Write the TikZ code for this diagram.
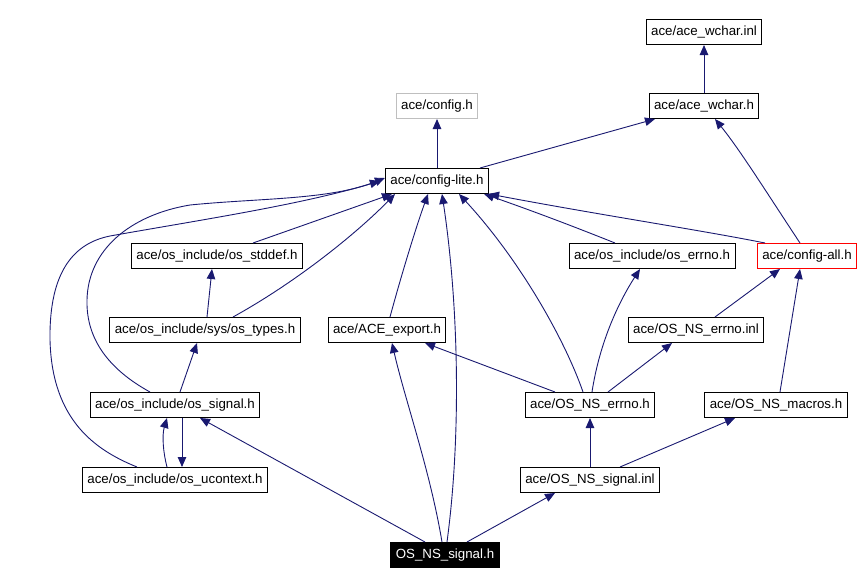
\documentclass[tikz,border=0pt]{standalone}
\usepackage{fontspec}
\setmainfont{Liberation Sans}
\usepackage{tikz}
\usetikzlibrary{arrows.meta}
\definecolor{edgeblue}{HTML}{191970}
\tikzset{
  hdr/.style={draw=black, line width=1pt, rectangle, minimum height=25pt, inner xsep=5pt, inner ysep=0pt, font=\fontsize{13.3}{15}\selectfont},
  dep/.style={draw=edgeblue, line width=0.9pt, -{Triangle[length=10pt,width=8.5pt]}}
}
\newcommand{\filenode}[4]{\node[hdr] (#1) at (#2,#3) {#4};}

\begin{document}
\begin{tikzpicture}[x=1pt,y=-1pt]
    \useasboundingbox (0,0) rectangle (863,584);
    %nodes
    \filenode{wchinl}{704}{32}{ace/ace\_wchar.inl}
    \node[hdr,draw=black!25] (cfg) at (437,106) {ace/config.h};
    \filenode{wch}{704}{106}{ace/ace\_wchar.h}
    \filenode{lite}{437}{181}{ace/config-lite.h}
    \filenode{stddef}{217}{256}{ace/os\_include/os\_stddef.h}
    \filenode{oserr}{652}{256}{ace/os\_include/os\_errno.h}
    \node[hdr,draw=red] (all) at (807,256) {ace/config-all.h};
    \filenode{types}{205}{330}{ace/os\_include/sys/os\_types.h}
    \filenode{export}{387}{330}{ace/ACE\_export.h}
    \filenode{nserrinl}{696}{330}{ace/OS\_NS\_errno.inl}
    \filenode{sig}{175}{405}{ace/os\_include/os\_signal.h}
    \filenode{nserrh}{590}{405}{ace/OS\_NS\_errno.h}
    \filenode{macros}{776}{405}{ace/OS\_NS\_macros.h}
    \filenode{uctx}{175}{480}{ace/os\_include/os\_ucontext.h}
    \filenode{nssiginl}{590}{480}{ace/OS\_NS\_signal.inl}
    \node[hdr,fill=black,text=white] (nssigh) at (445,555) {OS\_NS\_signal.h};

    %edges
    \draw[dep] (wch.north) -- (wchinl.south);
    \draw[dep] (lite.north) -- (cfg.south);
    \draw[dep] ([xshift=43]lite.north) -- ([xshift=-49]wch.south);
    \draw[dep] ([xshift=-7]all.north) .. controls (765,190) and (740,150) .. ([xshift=11]wch.south);

    \draw[dep] ([xshift=36]stddef.north) -- ([xshift=-45]lite.south);
    \draw[dep] ([xshift=28]types.north) .. controls (300,280) and (360,230) .. ([xshift=-42]lite.south);
    \draw[dep] ([xshift=2]types.north) -- ([xshift=-5]stddef.south);
    % os_ucontext.h and os_signal.h swing out to the left
    \draw[dep] ([xshift=-38]uctx.north) .. controls (95,450) and (52,420) .. (50,340)
               .. controls (49,270) and (75,243) .. (110,236)
               .. controls (200,220) and (300,205) .. ([xshift=-5]lite.west);
    \draw[dep] ([xshift=-25]sig.north) .. controls (110,370) and (86,340) .. (87,300)
               .. controls (88,250) and (130,215) .. (190,205)
               .. controls (260,198) and (330,200) .. ([yshift=3]lite.west);
    \draw[dep] ([xshift=3]export.north) .. controls (400,280) and (415,230) .. ([xshift=-9]lite.south);
    \draw[dep] ([xshift=2]nssigh.north) .. controls (462,430) and (458,300) .. ([xshift=5]lite.south);
    \draw[dep] ([xshift=-7]nserrh.north) .. controls (565,340) and (520,260) .. ([xshift=22]lite.south);
    \draw[dep] ([xshift=-37]oserr.north) .. controls (570,225) and (530,210) .. ([xshift=-5]lite.south east);
    \draw[dep] ([xshift=-42]all.north) .. controls (700,230) and (600,215) .. (lite.south east);

    \draw[dep] ([xshift=2]nserrh.north) .. controls (600,340) and (620,300) .. ([xshift=-12]oserr.south);
    \draw[dep] ([xshift=19]nserrinl.north) -- ([xshift=-27]all.south);
    \draw[dep] ([xshift=4]macros.north) -- ([xshift=-7]all.south);
    \draw[dep] ([xshift=5]sig.north) -- ([xshift=-8]types.south);
    \draw[dep] ([xshift=-35]nserrh.north) -- ([xshift=38]export.south);
    \draw[dep] ([xshift=18]nserrh.north) -- ([xshift=-24]nserrinl.south);

    \draw[dep] ([xshift=-8]uctx.north) .. controls (163,452) and (162,435) .. ([xshift=-8]sig.south);
    \draw[dep] ([xshift=7]sig.south) -- ([xshift=7]uctx.north);
    \draw[dep] (nssiginl.north) -- (nserrh.south);
    \draw[dep] ([xshift=30]nssiginl.north) -- ([xshift=-41]macros.south);

    \draw[dep] ([xshift=-20]nssigh.north) -- ([xshift=25]sig.south);
    \draw[dep] ([xshift=-3]nssigh.north) .. controls (430,470) and (405,400) .. ([xshift=5]export.south);
    \draw[dep] ([xshift=22]nssigh.north) -- ([xshift=-35]nssiginl.south);
\end{tikzpicture}
\end{document}
